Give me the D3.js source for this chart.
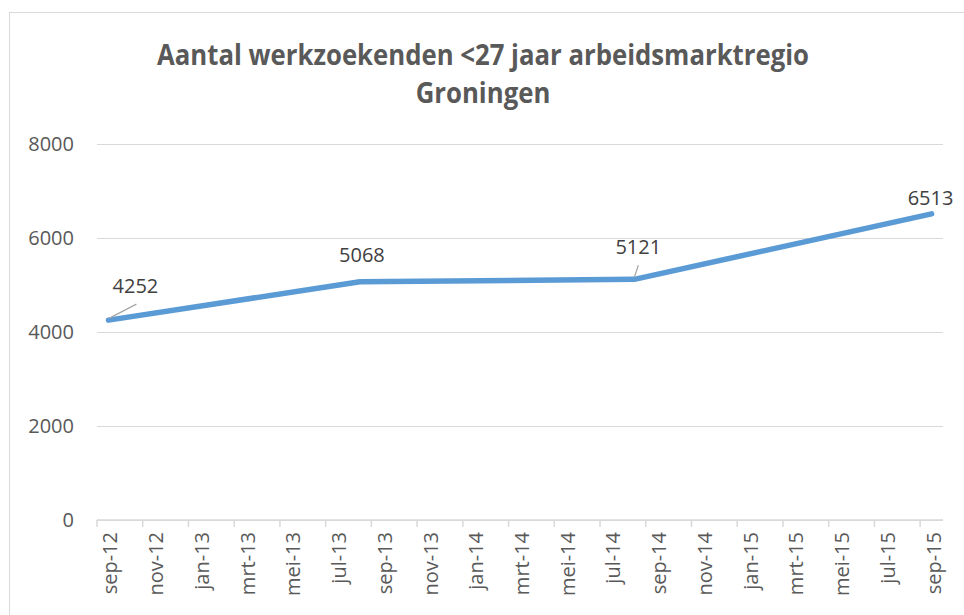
<!DOCTYPE html>
<html>
<head>
<meta charset="utf-8">
<script src="https://cdn.jsdelivr.net/npm/d3@7"></script>
<style>
  body { margin: 0; background: #fff; }
  svg { display: block; font-family: "Open Sans", sans-serif; }
</style>
</head>
<body>
<svg id="chart" width="964" height="615"></svg>
<script>
// maanden op de x-as (sep-12 t/m sep-15)
var maanden = ["sep-12","okt-12","nov-12","dec-12","jan-13","feb-13","mrt-13","apr-13","mei-13","jun-13","jul-13","aug-13",
  "sep-13","okt-13","nov-13","dec-13","jan-14","feb-14","mrt-14","apr-14","mei-14","jun-14","jul-14","aug-14",
  "sep-14","okt-14","nov-14","dec-14","jan-15","feb-15","mrt-15","apr-15","mei-15","jun-15","jul-15","aug-15","sep-15"];

// meetmomenten en aantallen
var meetMaanden = ["sep-12", "aug-13", "aug-14", "sep-15"];
var aantallen = [4252, 5068, 5121, 6513];

var yTicks = [0, 2000, 4000, 6000, 8000];
var titel = ["Aantal werkzoekenden <27 jaar arbeidsmarktregio", "Groningen"];

var svg = d3.select("#chart");

// kader rond de grafiek
svg.append("rect")
  .attr("x", 9.5).attr("y", 12.5)
  .attr("width", 970).attr("height", 620)
  .attr("fill", "none")
  .attr("stroke", "#d9d9d9");

var x = d3.scaleBand().domain(maanden).range([97, 943]).padding(0);
var y = d3.scaleLinear().domain([0, 8000]).range([520, 144]);

// rasterlijnen + y-labels
svg.append("g")
  .attr("transform", "translate(97,0)")
  .call(d3.axisLeft(y).tickValues(yTicks).tickFormat(d3.format("d")).tickSize(-(943 - 97)).tickPadding(23))
  .call(function(g) {
    g.select(".domain").remove();
    g.selectAll(".tick line").attr("stroke", "#d9d9d9");
    g.selectAll(".tick text")
      .attr("fill", "#595959")
      .style("font-size", "20px")
      .style("font-family", "Open Sans");
  });

// x-as: streepjes aan het begin van elke tweede maand, labels in het midden
var xAs = svg.append("g").attr("transform", "translate(0,520)");
xAs.append("line")
  .attr("x1", 97).attr("x2", 943)
  .attr("stroke", "#d9d9d9").attr("stroke-width", 1.5);

var getoond = maanden.filter(function(d, i) { return i % 2 === 0; });

xAs.selectAll(".tik").data(getoond).enter()
  .append("line")
  .attr("class", "tik")
  .attr("x1", function(d) { return x(d); })
  .attr("x2", function(d) { return x(d); })
  .attr("y1", 0).attr("y2", 7)
  .attr("stroke", "#d9d9d9").attr("stroke-width", 1.5);

xAs.selectAll(".lbl").data(getoond).enter()
  .append("text")
  .attr("class", "lbl")
  .attr("transform", function(d) {
    return "translate(" + (x(d) + x.bandwidth() / 2 + 2) + ",12) rotate(-90)";
  })
  .attr("text-anchor", "end")
  .attr("dy", "0.35em")
  .attr("fill", "#595959")
  .style("font-size", "20px")
  .text(function(d) { return d; });

// de lijn
var punten = meetMaanden.map(function(m, i) {
  return { maand: m, waarde: aantallen[i] };
});

var lijn = d3.line()
  .x(function(d) { return x(d.maand) + x.bandwidth() / 2; })
  .y(function(d) { return y(d.waarde); });

svg.append("path")
  .datum(punten)
  .attr("d", lijn)
  .attr("fill", "none")
  .attr("stroke", "#5b9bd5")
  .attr("stroke-width", 5.5)
  .attr("stroke-linecap", "round")
  .attr("stroke-linejoin", "round");

// datalabels (handmatig verschoven, zoals in Excel)
var labelVerschuiving = [[27, -27], [2, -20], [4, -25], [-1, -9]];
var hulplijnen = [[[1, -2], [28, -16]], null, [[0, -2], [4, -14]], null];

punten.forEach(function(p, i) {
  var px = x(p.maand) + x.bandwidth() / 2;
  var py = y(p.waarde);
  if (hulplijnen[i]) {
    svg.append("line")
      .attr("x1", px + hulplijnen[i][0][0]).attr("y1", py + hulplijnen[i][0][1])
      .attr("x2", px + hulplijnen[i][1][0]).attr("y2", py + hulplijnen[i][1][1])
      .attr("stroke", "#a6a6a6").attr("stroke-width", 1.2);
  }
  svg.append("text")
    .attr("x", px + labelVerschuiving[i][0])
    .attr("y", py + labelVerschuiving[i][1])
    .attr("text-anchor", "middle")
    .attr("fill", "#404040")
    .style("font-size", "20px")
    .text(p.waarde);
});

// titel: iets hoger lettertype, smaller getrokken zodat de breedte klopt
var titelG = svg.append("g");
titel.forEach(function(t, i) {
  titelG.append("text")
    .attr("x", 483)
    .attr("y", 65 + i * 38)
    .attr("text-anchor", "middle")
    .attr("fill", "#595959")
    .style("font-size", "28px")
    .style("font-weight", "bold")
    .text(t);
});
var eerste = titelG.select("text").node();
var schaal = 652 / eerste.getComputedTextLength();
titelG.selectAll("text").each(function() {
  var breedte = this.getComputedTextLength() * schaal;
  d3.select(this)
    .attr("textLength", breedte)
    .attr("lengthAdjust", "spacingAndGlyphs");
});
</script>
</body>
</html>
